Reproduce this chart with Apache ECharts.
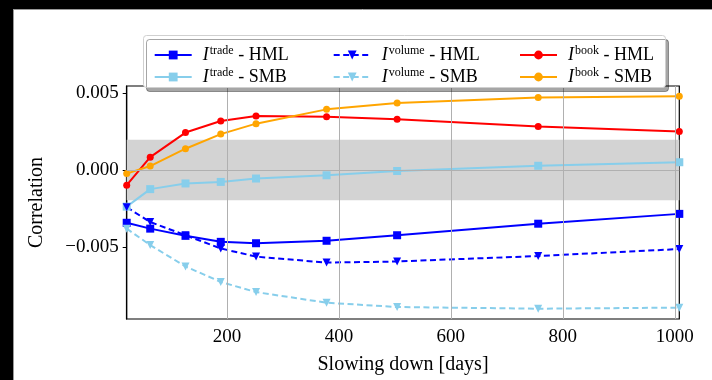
<!DOCTYPE html>
<html><head><meta charset="utf-8">
<script src="https://cdn.jsdelivr.net/npm/echarts@6/dist/echarts.min.js"></script>
<style>html,body{margin:0;padding:0;background:#fff}#c{width:712px;height:380px}</style>
</head><body><div id="c"></div>
<script>
var days = [21, 63, 126, 189, 252, 378, 504, 756, 1008];
var tradeHML  = [-0.00343, -0.00381, -0.00428, -0.00467, -0.00476, -0.00460, -0.00424, -0.00349, -0.00285];
var tradeSMB  = [-0.00238, -0.00124, -0.00087, -0.00077, -0.00055, -0.00034, -0.00006, 0.00028, 0.00051];
var volumeHML = [-0.00242, -0.00338, -0.00424, -0.00510, -0.00563, -0.00602, -0.00595, -0.00559, -0.00514];
var volumeSMB = [-0.00381, -0.00488, -0.00627, -0.00728, -0.00794, -0.00863, -0.00891, -0.00902, -0.00895];
var bookHML   = [-0.00098, 0.00084, 0.00244, 0.00319, 0.00352, 0.00347, 0.00330, 0.00283, 0.00251];
var bookSMB   = [-0.00023, 0.00026, 0.00139, 0.00234, 0.00302, 0.00395, 0.00437, 0.00472, 0.00480];
var xTicks = [200, 400, 600, 800, 1000];
var yTicks = [-0.005, 0, 0.005];
var band = [-0.00197, 0.00197];

var FONT = 'Liberation Serif';
function pairs(ys){ return days.map(function(d,i){ return [d, ys[i]]; }); }
function mk(name, ys, color, symbol, dashed){
  return {
    name: name, type: 'line', data: pairs(ys), z: 3,
    symbol: symbol, symbolSize: symbol === 'rect' ? 8 : (symbol === 'circle' ? 7 : 8),
    symbolRotate: symbol === 'triangle' ? 180 : 0,
    showAllSymbol: true, animation: false,
    lineStyle: {color: color, width: 2, type: dashed ? [6, 3.5] : 'solid'},
    itemStyle: {color: color}
  };
}
var series = [
  {type: 'line', data: [], z: 1, silent: true, animation: false,
   markArea: {silent: true, itemStyle: {color: '#d3d3d3'}, data: [[{yAxis: band[0]}, {yAxis: band[1]}]]}},
  {type: 'line', data: [], z: 1.5, silent: true, animation: false,
   markLine: {silent: true, symbol: ['none','none'], label: {show: false}, animation: false,
     lineStyle: {color: '#b0b0b0', width: 1, type: 'solid'},
     data: xTicks.map(function(v){ return {xAxis: v}; }).concat(yTicks.map(function(v){ return {yAxis: v}; }))}},
  mk('trade HML', tradeHML, '#0000ff', 'rect', false),
  mk('trade SMB', tradeSMB, '#87ceeb', 'rect', false),
  mk('volume HML', volumeHML, '#0000ff', 'triangle', true),
  mk('volume SMB', volumeSMB, '#87ceeb', 'triangle', true),
  mk('book HML', bookHML, '#ff0000', 'circle', false),
  mk('book SMB', bookSMB, '#ffa500', 'circle', false)
];
function legendFmt(name){
  var p = name.split(' ');
  return '{i|I}{s|' + p[0] + '}{n| - ' + p[1] + '}';
}
function legend(left, names){
  return {
    orient: 'vertical', left: left, top: 40, z: 12,
    itemWidth: 37, itemHeight: 11, itemGap: 3,
    data: names, formatter: legendFmt, selectedMode: false,
    textStyle: {fontFamily: FONT, fontSize: 18, color: '#000', padding: [0,0,0,6],
      rich: {
        i: {fontFamily: FONT, fontStyle: 'italic', fontSize: 18, color: '#000', lineHeight: 20},
        s: {fontFamily: FONT, fontSize: 12, color: '#000', verticalAlign: 'top', lineHeight: 20, padding: [0,0,0,1]},
        n: {fontFamily: FONT, fontSize: 18, color: '#000', lineHeight: 20}
      }}
  };
}
var chart = echarts.init(document.getElementById('c'), null, {renderer: 'canvas'});
chart.setOption({
  animation: false,
  backgroundColor: '#fff',
  grid: {left: 126.7, right: 32.7, top: 86, bottom: 58, show: true, borderColor: '#000', borderWidth: 1.2, backgroundColor: 'transparent'},
  xAxis: {
    type: 'value', min: 21, max: 1008,
    name: 'Slowing down [days]', nameLocation: 'middle', nameGap: 36,
    nameTextStyle: {fontFamily: FONT, fontSize: 20, color: '#000'},
    axisLine: {show: true, lineStyle: {color: '#000', width: 1.2}},
    axisTick: {show: true, length: 4, customValues: xTicks, lineStyle: {color: '#000'}},
    axisLabel: {customValues: xTicks, margin: 9, fontFamily: FONT, fontSize: 19, color: '#000',
      formatter: function(v){ return String(Math.round(v)); }},
    splitLine: {show: false}
  },
  yAxis: {
    type: 'value', min: -0.00969, max: 0.00547,
    name: 'Correlation', nameLocation: 'middle', nameGap: 80, nameRotate: 90,
    nameTextStyle: {fontFamily: FONT, fontSize: 20, color: '#000'},
    axisLine: {show: true, lineStyle: {color: '#000', width: 1.2}},
    axisTick: {show: true, length: 4, customValues: yTicks, lineStyle: {color: '#000'}},
    axisLabel: {customValues: yTicks, margin: 8, fontFamily: FONT, fontSize: 19, color: '#000',
      formatter: function(v){ return (v < 0 ? '\u2212' : '') + Math.abs(v).toFixed(3); }},
    splitLine: {show: false}
  },
  legend: [
    legend(148.7, ['trade HML', 'trade SMB']),
    legend(327.7, ['volume HML', 'volume SMB']),
    legend(514, ['book HML', 'book SMB'])
  ],
  graphic: [
    {type: 'rect', z: 10, shape: {x: 143.5, y: 35.5, width: 522, height: 52, r: 3},
     style: {fill: '#fff', stroke: '#d0d0d0', lineWidth: 1, shadowColor: 'rgba(0,0,0,0.35)', shadowOffsetX: 3, shadowOffsetY: 4, shadowBlur: 0}},
    {type: 'rect', z: 20, shape: {x: 0, y: 0, width: 712, height: 9}, style: {fill: '#000'}},
    {type: 'rect', z: 20, shape: {x: 0, y: 0, width: 13, height: 380}, style: {fill: '#000'}},
    {type: 'line', z: 20, shape: {x1: 13, y1: 9.5, x2: 712, y2: 9.5}, style: {stroke: '#999', lineWidth: 1}},
    {type: 'line', z: 20, shape: {x1: 13.5, y1: 9, x2: 13.5, y2: 380}, style: {stroke: '#999', lineWidth: 1}}
  ],
  series: series
});
</script></body></html>
